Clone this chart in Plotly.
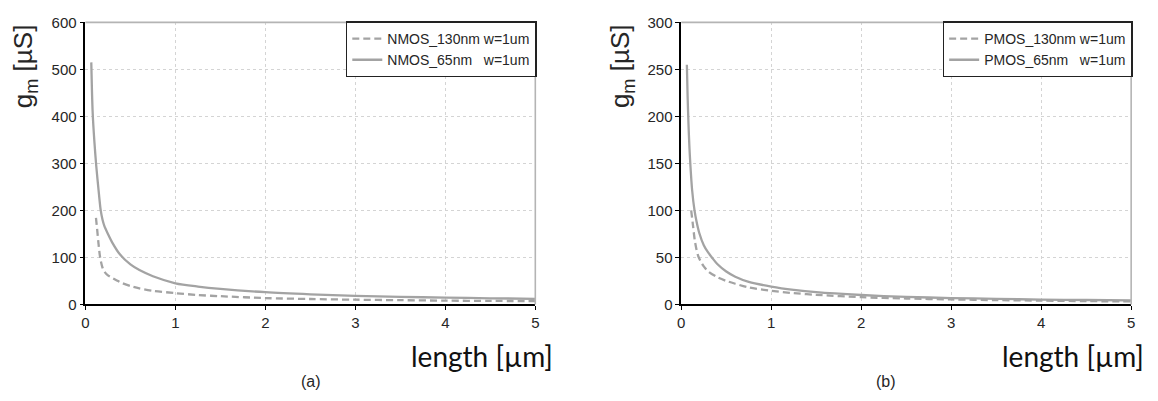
import plotly.graph_objects as go

# ---------------- data ----------------
nmos65_L = [0.065, 0.08, 0.10, 0.12, 0.15, 0.17, 0.19, 0.21, 0.25, 0.30, 0.385, 0.5, 0.6, 0.75,
            1.0, 1.25, 1.5, 2.0, 2.5, 3.0, 3.5, 4.0, 4.5, 5.0]
nmos65_gm = [515, 410, 345, 295, 235, 200, 180, 167, 150, 131, 106, 85, 73, 60,
             45, 38, 33, 26, 21.5, 18, 16, 14.5, 13, 12]

nmos130_L = [0.117, 0.13, 0.145, 0.165, 0.19, 0.21, 0.25, 0.30, 0.35, 0.40, 0.5, 0.6, 0.75,
             1.0, 1.25, 1.5, 2.0, 2.5, 3.0, 3.5, 4.0, 4.5, 5.0]
nmos130_gm = [184, 160, 130, 98, 78, 70, 62, 56, 51, 46, 39, 34, 29,
              24, 20, 17.5, 13.5, 11.5, 10, 9, 8, 7.5, 7]

pmos65_L = [0.062, 0.07, 0.08, 0.09, 0.10, 0.12, 0.147, 0.17, 0.20, 0.25, 0.30, 0.34, 0.40,
            0.5, 0.6, 0.75, 1.0, 1.25, 1.5, 2.0, 2.5, 3.0, 3.5, 4.0, 4.5, 5.0]
pmos65_gm = [255, 222, 192, 168, 150, 122, 100, 88, 76, 63, 55, 50, 43,
             35, 29.5, 24, 19, 15.5, 13, 10, 8, 6.8, 5.9, 5.2, 4.7, 4.3]

pmos130_L = [0.11, 0.13, 0.15, 0.17, 0.19, 0.22, 0.25, 0.30, 0.40, 0.5, 0.6, 0.75,
             1.0, 1.25, 1.5, 2.0, 2.5, 3.0, 3.5, 4.0, 4.5, 5.0]
pmos130_gm = [100, 84, 68, 58, 51, 45, 40.5, 35, 29, 25, 22, 18,
              14.5, 12, 10.2, 7.7, 6.3, 5.3, 4.6, 4.0, 3.5, 3.2]

x_ticks = [0, 1, 2, 3, 4, 5]
y_ticks_n = [0, 100, 200, 300, 400, 500, 600]
y_ticks_p = [0, 50, 100, 150, 200, 250, 300]

names = ["NMOS_130nm w=1um", "NMOS_65nm\u00a0\u00a0\u00a0w=1um",
         "PMOS_130nm w=1um", "PMOS_65nm\u00a0\u00a0\u00a0w=1um"]

# ---------------- figure ----------------
W, H = 1158, 401
def px(x):
    return x / W
def py(y):
    return (H - y) / H

LINE = "#a3a3a3"
fig = go.Figure()

fig.add_trace(go.Scatter(x=nmos130_L, y=nmos130_gm, mode="lines", name=names[0],
                         line=dict(color=LINE, width=2.3, dash="7px,4px", shape="spline", smoothing=0.8),
                         xaxis="x", yaxis="y", legend="legend"))
fig.add_trace(go.Scatter(x=nmos65_L, y=nmos65_gm, mode="lines", name=names[1],
                         line=dict(color=LINE, width=2.3, shape="spline", smoothing=0.8),
                         xaxis="x", yaxis="y", legend="legend"))
fig.add_trace(go.Scatter(x=pmos130_L, y=pmos130_gm, mode="lines", name=names[2],
                         line=dict(color=LINE, width=2.3, dash="7px,4px", shape="spline", smoothing=0.8),
                         xaxis="x2", yaxis="y2", legend="legend2"))
fig.add_trace(go.Scatter(x=pmos65_L, y=pmos65_gm, mode="lines", name=names[3],
                         line=dict(color=LINE, width=2.3, shape="spline", smoothing=0.8),
                         xaxis="x2", yaxis="y2", legend="legend2"))

tickfont = dict(family="Arial, Liberation Sans, sans-serif", size=15, color="#262626")
common_x = dict(range=[0, 5], tickvals=x_ticks, showline=True, linecolor="black", linewidth=1.6,
                ticks="outside", ticklen=4, tickwidth=1.4, tickcolor="black",
                showgrid=True, gridcolor="#d4d4d4", griddash="dot", gridwidth=1,
                zeroline=False, tickfont=tickfont, fixedrange=True)
common_y = dict(showline=True, linecolor="black", linewidth=1.6,
                ticks="outside", ticklen=4, tickwidth=1.4, tickcolor="black",
                showgrid=True, gridcolor="#d4d4d4", griddash="dot", gridwidth=1,
                zeroline=False, tickfont=tickfont, fixedrange=True)

ydom = [py(308.5), py(14)]
legend_common = dict(bgcolor="white", bordercolor="#222222", borderwidth=1.5,
                     font=dict(family="Arial, Liberation Sans, sans-serif", size=14, color="#262626"),
                     xanchor="right", yanchor="top", itemwidth=30, tracegroupgap=0)

fig.update_layout(
    width=W, height=H, margin=dict(l=0, r=0, t=0, b=0),
    paper_bgcolor="white", plot_bgcolor="white",
    xaxis=dict(domain=[px(82), px(535)], anchor="y", **common_x),
    yaxis=dict(domain=ydom, anchor="x", range=[0, 600], tickvals=y_ticks_n, **common_y),
    xaxis2=dict(domain=[px(682), px(1135)], anchor="y2", **common_x),
    yaxis2=dict(domain=ydom, anchor="x2", range=[0, 300], tickvals=y_ticks_p, **common_y),
    legend=dict(x=px(536.5), y=py(13), **legend_common),
    legend2=dict(x=px(1136.5), y=py(13), **legend_common),
    showlegend=True,
)

# top and right frame lines (gray)
for xr, yr in [("x domain", "y domain"), ("x2 domain", "y2 domain")]:
    fig.add_shape(type="line", xref=xr, yref=yr, x0=0, x1=1, y0=1, y1=1,
                  line=dict(color="#b4b4b4", width=1.6))
    fig.add_shape(type="line", xref=xr, yref=yr, x0=1, x1=1, y0=0, y1=1,
                  line=dict(color="#b4b4b4", width=1.6))

title_font = dict(family="Arial, Liberation Sans, sans-serif", size=26, color="#262626")
len_font = dict(family="Lato, Open Sans, sans-serif", size=28, color="#111111")
lab_font = dict(family="Arial, Liberation Sans, sans-serif", size=16, color="#262626")

# y titles
for xc in [21, 622]:
    fig.add_annotation(text="g<sub>m</sub> [µS]", xref="paper", yref="paper",
                       x=px(xc), y=py(14), xanchor="center", yanchor="top",
                       textangle=-90, showarrow=False, font=title_font)
# x titles
for xr in [555, 1150]:
    fig.add_annotation(text="length [µm]", xref="paper", yref="paper",
                       x=px(xr), y=py(362), xanchor="right", yanchor="middle",
                       showarrow=False, font=len_font)
# panel labels
for xc, t in [(309, "(a)"), (888, "(b)")]:
    fig.add_annotation(text=t, xref="paper", yref="paper",
                       x=px(xc), y=py(389), xanchor="center", yanchor="middle",
                       showarrow=False, font=lab_font)

fig.write_html("out.html")
